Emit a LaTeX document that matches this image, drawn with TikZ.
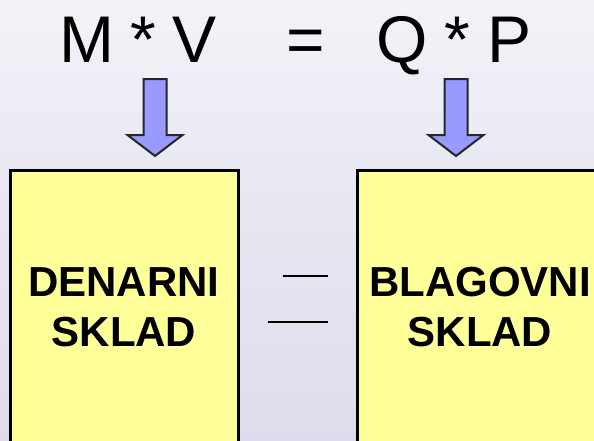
\documentclass[tikz,border=0pt]{standalone}
\usepackage{fontspec}
\setmainfont{Liberation Sans}
\usetikzlibrary{positioning}
\definecolor{bgTop}{RGB}{242,242,248}
\definecolor{bgBottom}{RGB}{220,220,236}
\definecolor{arrowFill}{RGB}{153,153,255}
\definecolor{boxFill}{RGB}{255,255,153}
\tikzset{
  eqText/.style={anchor=base,inner sep=0pt,font=\fontsize{66}{70}\selectfont},
  skladText/.style={align=center,inner sep=0pt,font=\fontsize{42}{50}\selectfont\bfseries},
  skladBox/.style={draw=black,line width=3pt,fill=boxFill},
  downArrow/.style={draw=black!85,line width=2pt,fill=arrowFill,line join=miter},
}
\begin{document}
\begin{tikzpicture}[x=1pt,y=-1pt]
      \clip (0,0) rectangle (594,440);
      \useasboundingbox (0,0) rectangle (594,440);
      \shade[top color=bgTop,bottom color=bgBottom] (0,0) rectangle (594,440);
      % equation
      \node[eqText] (M) at (86.5,62) {M};
      \node[eqText] (s1) at (143,62) {*};
      \node[eqText] (V) at (195,62) {V};
      \node[eqText] (eq) at (306,62) {=};
      \node[eqText] (Q) at (402.5,62) {Q};
      \node[eqText] (s2) at (457,62) {*};
      \node[eqText] (P) at (509.5,62) {P};
      % block arrows
      \foreach \x in {155,456}
        \draw[downArrow] (\x-11.5,79) -- (\x+11.5,79) -- (\x+11.5,135) -- (\x+27.5,135)
          -- (\x,156) -- (\x-27.5,135) -- (\x-11.5,135) -- cycle;
      % boxes
      \draw[skladBox] (10,447) -- (10,170) -- (238,170) -- (238,447);
      \draw[skladBox] (357,447) -- (357,170) -- (606,170) -- (606,447);
      \node[skladText] (denarni) at (124,307) {DENARNI\\SKLAD};
      \node[skladText] (blagovni) at (480,307) {BLAGOVNI\\SKLAD};
      % equals between boxes
      \draw[line width=2pt] (283,276) -- (328,276);
      \draw[line width=2pt] (268,322) -- (328,322);
\end{tikzpicture}
\end{document}
